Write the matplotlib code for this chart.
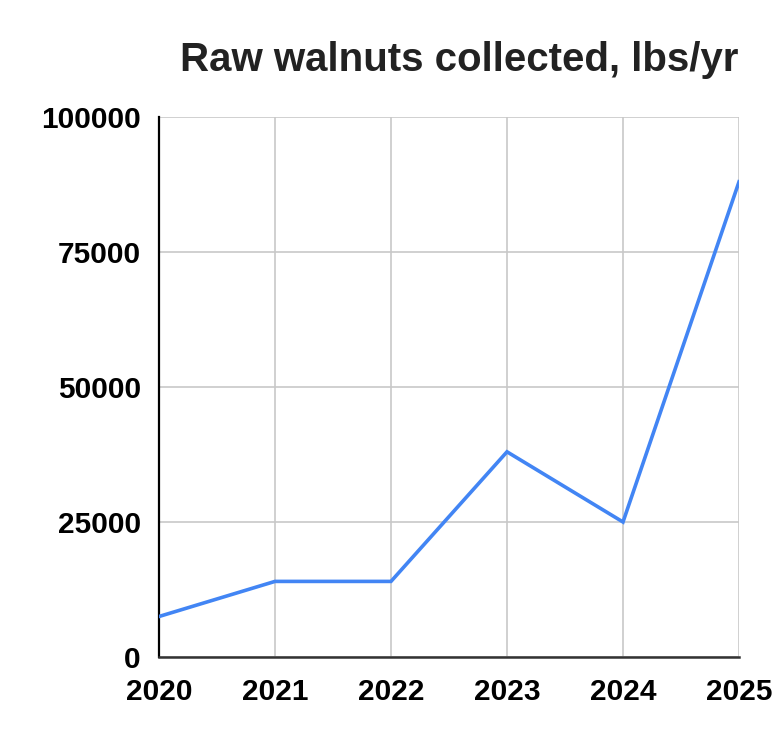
import matplotlib
matplotlib.use("Agg")
import matplotlib.pyplot as plt
from matplotlib import font_manager

# walnut harvest
years = [2020, 2021, 2022, 2023, 2024, 2025]
lbs_collected = [7500, 14000, 14000, 38000, 25000, 88000]
y_ticks = [0, 25000, 50000, 75000, 100000]

plt.rcParams['font.family'] = ['Liberation Sans', 'DejaVu Sans']

# the year labels look tall and narrow in the original
try:
    font_manager.findfont(font_manager.FontProperties(family='Liberation Sans Narrow', weight='bold'),
                          fallback_to_default=False)
    x_family, x_size = 'Liberation Sans Narrow', 26.5
except ValueError:
    x_family, x_size = 'Liberation Sans', 21.5

fig = plt.figure(figsize=(7.76, 7.42), dpi=100)
ax = fig.add_axes([159 / 776, 1 - 657 / 742, 580 / 776, 540 / 742])

ax.plot(years, lbs_collected, color='#4285F4', linewidth=2.6, solid_joinstyle='miter', zorder=3)

ax.set_xlim(years[0], years[-1])
ax.set_ylim(y_ticks[0], y_ticks[-1])
ax.set_xticks(years)
ax.set_yticks(y_ticks)
ax.set_xticklabels([str(y) for y in years], fontsize=x_size, fontweight='bold', family=x_family)
ax.set_yticklabels([str(v) for v in y_ticks], fontsize=21.5, fontweight='bold')
ax.tick_params(axis='x', length=0, pad=15)
ax.tick_params(axis='y', length=0, pad=13)

ax.grid(True, color='#c8c8c8', linewidth=1.2)
ax.set_axisbelow(True)
for side in ['top', 'right']:
    ax.spines[side].set_visible(False)
ax.spines['left'].set_color('black')
ax.spines['left'].set_linewidth(1.6)
ax.spines['bottom'].set_color('#333333')
ax.spines['bottom'].set_linewidth(1.8)
for lbl in ax.get_xticklabels():
    lbl.set_clip_on(False)

fig.text(738 / 776, 1 - 71 / 742, "Raw walnuts collected, lbs/yr", ha='right', va='baseline',
         fontsize=29, fontweight='bold', color='#222222')

fig.savefig("out.png", dpi=100)
